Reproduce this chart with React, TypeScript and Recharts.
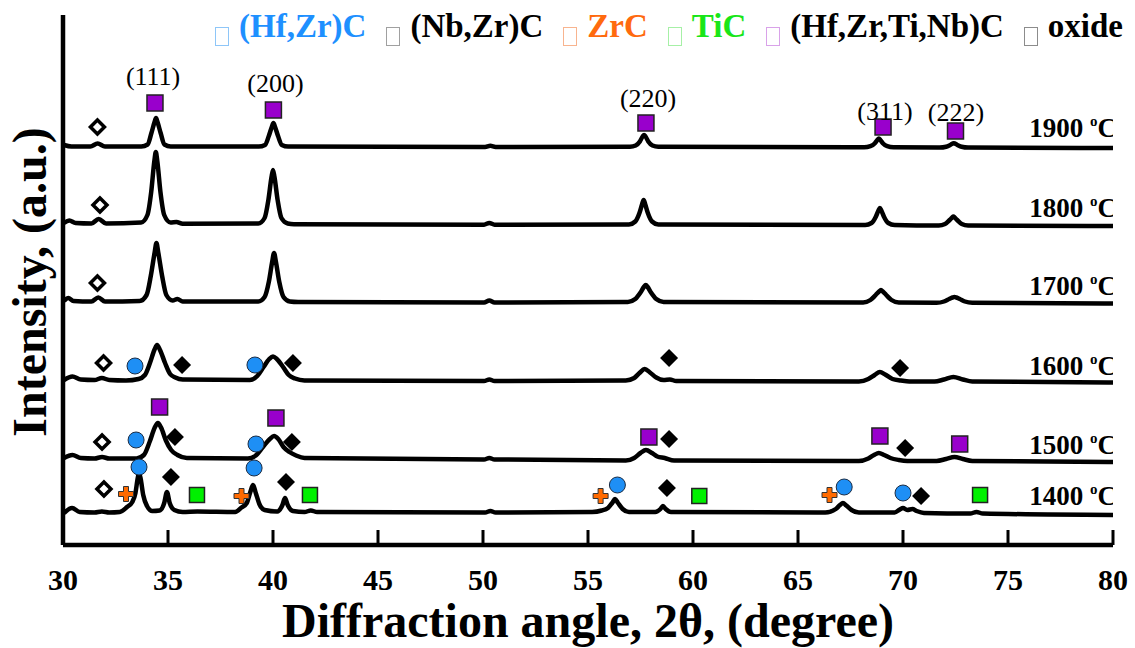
import { ComposedChart, Line, Scatter, XAxis, YAxis } from 'recharts'

// XRD traces, intensity in a.u. (height above the angle axis)
const trace1900: [number, number][] = [
  [30.05, 400], [30.4, 398.5], [31.3, 398.5], [31.65, 401.5], [32.0, 398.5],
  [33.73, 398.6], [34.03, 400.5], [34.21, 412], [34.36, 423], [34.43, 427], [34.5, 423], [34.65, 412], [34.83, 400.5], [35.13, 398.6],
  [39.32, 398.4], [39.62, 400], [39.8, 409], [39.95, 418.5], [40.02, 422], [40.09, 418.5], [40.24, 409], [40.42, 400], [40.72, 398.4],
  [50.1, 398], [50.35, 399.2], [50.6, 398],
  [57.0, 398.2], [57.27, 399.5], [57.47, 403.5], [57.6, 408.5], [57.67, 410], [57.74, 408.5], [57.87, 403.5], [58.07, 399.5], [58.35, 398.2],
  [68.15, 397.7], [68.45, 398.8], [68.65, 401.5], [68.78, 405], [68.85, 406.5], [68.92, 405], [69.05, 401.5], [69.25, 398.8], [69.55, 397.7],
  [71.75, 397.4], [72.05, 398.2], [72.25, 400], [72.42, 401.8], [72.59, 400], [72.79, 398.2], [73.1, 397.4],
  [80, 397],
]

const trace1800: [number, number][] = [
  [30.05, 322], [30.3, 324.5], [30.6, 322], [31.35, 321.5], [31.7, 326], [32.05, 321.5],
  [33.72, 322.5], [34.02, 330], [34.2, 353], [34.35, 384], [34.42, 393], [34.49, 384], [34.64, 353], [34.82, 330], [35.12, 322.5],
  [35.4, 323], [35.7, 321.2],
  [39.3, 321.5], [39.6, 327], [39.78, 345], [39.93, 368], [40.0, 375], [40.07, 368], [40.22, 345], [40.4, 327], [40.7, 321.5],
  [41.0, 320.8], [50.05, 320.3], [50.3, 322], [50.55, 320.3],
  [56.95, 320.5], [57.25, 323.5], [57.45, 332], [57.58, 341], [57.65, 345], [57.72, 341], [57.85, 332], [58.05, 323.5], [58.35, 320.5],
  [68.2, 320], [68.5, 322], [68.7, 328], [68.83, 334.5], [68.9, 337], [68.97, 334.5], [69.1, 328], [69.3, 322], [69.6, 320],
  [71.7, 319.5], [72.0, 321], [72.22, 325], [72.34, 327.5], [72.4, 328.5], [72.46, 327.5], [72.58, 325], [72.8, 321], [73.1, 319.5],
  [80, 319],
]

const trace1700: [number, number][] = [
  [30.05, 244], [30.25, 247], [30.5, 244], [31.35, 243.5], [31.68, 247.5], [32.0, 243.5],
  [33.65, 244], [33.98, 250], [34.18, 269], [34.36, 292], [34.45, 302], [34.54, 292], [34.72, 269], [34.92, 250], [35.22, 244.5],
  [35.45, 246], [35.7, 243.5],
  [39.3, 243.5], [39.6, 248], [39.8, 263], [39.96, 283], [40.05, 292], [40.14, 283], [40.3, 263], [40.5, 248], [40.8, 243.5],
  [41.2, 243], [50.05, 242.5], [50.3, 244.5], [50.55, 242.5],
  [56.9, 243], [57.25, 246], [57.5, 252.5], [57.66, 258], [57.75, 260], [57.84, 258], [58.0, 252.5], [58.25, 246], [58.6, 243],
  [68.1, 242.5], [68.45, 245], [68.7, 250], [68.86, 253.5], [68.95, 255], [69.04, 253.5], [69.2, 250], [69.45, 245], [69.8, 242.5],
  [71.6, 242.2], [71.95, 243.5], [72.2, 246], [72.36, 247.5], [72.45, 248], [72.54, 247.5], [72.7, 246], [72.95, 243.5], [73.3, 242.2],
  [80, 241.5],
]

const trace1600: [number, number][] = [
  [30.05, 165], [30.45, 168.5], [30.85, 165.5], [31.5, 165], [31.85, 167], [32.2, 165], [33.0, 164.5],
  [33.6, 166], [33.9, 170], [34.14, 182], [34.35, 195], [34.48, 200], [34.62, 195], [34.86, 182], [35.1, 171], [35.35, 167.5], [35.7, 165.5],
  [38.9, 165], [39.25, 169], [39.55, 178], [39.82, 186], [40.0, 188.5], [40.18, 186], [40.48, 178], [40.75, 170], [41.05, 166.5], [41.5, 164.5],
  [50.05, 164], [50.3, 165.5], [50.55, 164],
  [56.8, 164.5], [57.2, 167], [57.45, 172], [57.7, 176], [57.95, 172.5], [58.25, 167.5], [58.6, 165], [58.9, 165.5], [59.2, 164],
  [67.9, 163.5], [68.35, 166], [68.65, 170], [68.9, 173], [69.15, 170.5], [69.5, 166], [69.9, 164.5], [70.3, 163.5],
  [71.5, 163.5], [71.95, 165.5], [72.4, 168], [72.85, 165.5], [73.3, 163.5],
  [80, 162.5],
]

const trace1500: [number, number][] = [
  [30.05, 87], [30.45, 90], [30.85, 87], [31.5, 86.5], [31.86, 88], [32.2, 86.5],
  [33.5, 86.5], [33.85, 90], [34.14, 104], [34.36, 117], [34.52, 122], [34.68, 117], [34.9, 104.5], [35.15, 95], [35.45, 90], [35.9, 87],
  [38.8, 86.5], [39.15, 89], [39.52, 98], [39.85, 106], [40.05, 109], [40.25, 106], [40.5, 98], [40.78, 93], [41.1, 89.5], [41.5, 87],
  [50.05, 85.5], [50.3, 87], [50.55, 85.5],
  [56.8, 84.5], [57.2, 87], [57.5, 92], [57.76, 95], [58.05, 92], [58.3, 88.5], [58.65, 87], [59.1, 84.5],
  [67.9, 84], [68.35, 86.5], [68.62, 90], [68.85, 92], [69.1, 90], [69.4, 87], [69.8, 85], [70.2, 84],
  [71.6, 84], [72.05, 86], [72.45, 88], [72.85, 86], [73.3, 84],
  [80, 83],
]

const trace1400: [number, number][] = [
  [30.05, 32], [30.43, 37], [30.8, 33], [31.5, 32.5], [31.85, 33.5], [32.2, 32.5], [32.7, 33],
  [33.05, 38], [33.3, 43], [33.45, 52], [33.56, 67], [33.62, 72], [33.7, 66], [33.82, 50], [34.0, 39], [34.25, 34],
  [34.6, 34.5], [34.82, 42], [34.95, 53], [35.08, 42], [35.3, 35], [35.7, 33], [36.4, 33.5],
  [38.2, 33], [38.5, 37.5], [38.75, 42], [38.92, 53], [39.05, 60], [39.18, 52], [39.35, 41], [39.6, 35],
  [40.2, 33.5], [40.45, 40], [40.57, 47], [40.7, 40], [40.95, 34], [41.5, 33], [41.8, 34.5], [42.1, 33],
  [50.1, 32.5], [50.35, 34], [50.6, 32.5],
  [55.2, 33], [55.65, 34.5], [55.95, 37], [56.15, 42], [56.29, 46], [56.43, 42], [56.65, 36], [56.95, 33],
  [58.2, 33], [58.45, 36], [58.57, 39], [58.7, 36], [58.95, 33],
  [66.3, 32.5], [66.8, 36], [67.0, 40], [67.14, 42], [67.3, 39.5], [67.55, 35], [67.9, 32.5],
  [69.6, 32.5], [69.85, 35.5], [70.0, 37], [70.2, 35], [70.45, 36], [70.65, 34], [71.0, 32],
  [73.2, 31.5], [73.5, 33], [73.8, 31.5],
  [80, 30],
]

const traces = [trace1900, trace1800, trace1700, trace1600, trace1500, trace1400]

// phase markers [angle, intensity]
const hfNbZrTiC: [number, number][] = [
  [34.38, 442], [40.02, 435], [57.76, 422], [69.05, 418], [72.5, 414],
  [34.6, 138], [40.14, 127], [57.9, 108], [68.9, 109], [72.7, 101],
]
const oxideOpen: [number, number][] = [
  [31.64, 418], [31.76, 340], [31.64, 262], [31.93, 182], [31.86, 103], [31.95, 56],
]
const hfZrC: [number, number][] = [
  [33.43, 179], [39.14, 180],
  [33.48, 105], [39.19, 101],
  [33.62, 78], [39.1, 77], [56.4, 60], [67.2, 58], [70.0, 52],
]
const nbZrC: [number, number][] = [
  [35.67, 180], [40.95, 182], [58.86, 187], [69.86, 177],
  [35.33, 108], [40.9, 103], [58.86, 106], [70.1, 97],
  [35.14, 68], [40.62, 63], [58.76, 57], [70.86, 49],
]
const zrC: [number, number][] = [[33.0, 51], [38.5, 49], [55.6, 49], [66.5, 50]]
const tiC: [number, number][] = [[36.38, 50], [41.76, 50], [60.3, 49], [73.67, 50]]

const hklLabels = ['(111)', '(200)', '(220)', '(311)', '(222)']
const hklAngles = [34.29, 40.12, 57.86, 69.14, 72.52]
const hklHeights = [460, 453, 438, 425, 424]

const tempLabels = ['1900', '1800', '1700', '1600', '1500', '1400']
const tempHeights = [408, 328, 250, 170, 91, 40]

const angleTicks = [30, 35, 40, 45, 50, 55, 60, 65, 70, 75, 80]

const legendNames = ['(Hf,Zr)C', '(Nb,Zr)C', 'ZrC', 'TiC', '(Hf,Zr,Ti,Nb)C', 'oxide']
const legendText = ['#1E90FF', '#000', '#FF6A0E', '#19E619', '#000', '#000']
const legendBox = ['#8EC6F8', '#A0A0A0', '#F8B48F', '#A6F0A6', '#D9A2E9', '#8C8C8C']

const SERIF = '"Liberation Serif", "Times New Roman", serif'

const pts = (arr: [number, number][]) => arr.map(([x, y]) => ({ x, y }))

const PurpleSquare = ({ cx, cy }: any) => (
  <rect x={cx - 8} y={cy - 8} width={16} height={16} fill="#9900CC" stroke="#222" strokeWidth={1.5} />
)
const OpenDiamond = ({ cx, cy }: any) => (
  <polygon points={`${cx},${cy - 7} ${cx + 7},${cy} ${cx},${cy + 7} ${cx - 7},${cy}`} fill="#fff" stroke="#000" strokeWidth={3.5} />
)
const BlackDiamond = ({ cx, cy }: any) => (
  <polygon points={`${cx},${cy - 9} ${cx + 9},${cy} ${cx},${cy + 9} ${cx - 9},${cy}`} fill="#000" />
)
const BlueCircle = ({ cx, cy }: any) => <circle cx={cx} cy={cy} r={8} fill="#1E8FF5" stroke="#1d2d44" strokeWidth={1} />
const OrangePlus = ({ cx, cy }: any) => (
  <path
    d={`M${cx - 2.5},${cy - 7.5} h5 v5 h5 v5 h-5 v5 h-5 v-5 h-5 v-5 h5 z`}
    fill="#FF6A00"
    stroke="#333"
    strokeWidth={1}
  />
)
const GreenSquare = ({ cx, cy }: any) => (
  <rect x={cx - 7.5} y={cy - 7.5} width={15} height={15} fill="#00F000" stroke="#222" strokeWidth={1.5} />
)
const HklText = ({ cx, cy, payload }: any) => (
  <text x={cx} y={cy} textAnchor="middle" fontFamily={SERIF} fontSize={26} fill="#000">
    {payload.label}
  </text>
)
const TempText = ({ cx, cy, payload }: any) => (
  <text x={cx + 4} y={cy} textAnchor="end" fontFamily={SERIF} fontSize={27} fontWeight="bold" fill="#000">
    {payload.label}{' '}
    <tspan fontSize={15} dy={-11}>o</tspan>
    <tspan dy={11}>C</tspan>
  </text>
)

const AngleTick = ({ x, y, payload }: any) => (
  <g>
    <line x1={x} x2={x} y1={y} y2={y - 15} stroke="#000" strokeWidth={3} />
    <text x={x} y={y + 45} textAnchor="middle" fontFamily={SERIF} fontSize={30} fontWeight="bold" fill="#000">
      {payload.value}
    </text>
  </g>
)

const XTitle = (props: any) => {
  const vb = props.viewBox || { x: 63, y: 545, width: 1050, height: 103 }
  return (
    <text x={vb.x + vb.width / 2} y={vb.y + 92} textAnchor="middle" fontFamily={SERIF} fontSize={48} fontWeight="bold" fill="#000">
      Diffraction angle, 2θ, (degree)
    </text>
  )
}

const YTitle = (props: any) => {
  const vb = props.viewBox || { x: 0, y: 15, width: 63, height: 530 }
  const tx = vb.x + 46
  const ty = vb.y + vb.height / 2 + 2
  return (
    <text x={tx} y={ty} transform={`rotate(-90 ${tx} ${ty})`} textAnchor="middle" fontFamily={SERIF} fontSize={48} fontWeight="bold" fill="#000">
      Intensity, (a.u.)
    </text>
  )
}

export default function App() {
  const hkl = hklLabels.map((label, i) => ({ x: hklAngles[i], y: hklHeights[i], label }))
  const temps = tempLabels.map((label, i) => ({ x: 80, y: tempHeights[i], label }))

  return (
    <div style={{ position: 'absolute', left: 0, top: 0, width: 1135, height: 648, background: '#fff' }}>
      <ComposedChart width={1135} height={648} margin={{ top: 15, right: 22, left: 0, bottom: 0 }}>
        <XAxis
          type="number"
          dataKey="x"
          domain={[30, 80]}
          ticks={angleTicks}
          allowDataOverflow
          height={103}
          tickSize={0}
          tickMargin={0}
          tickLine={false}
          tick={<AngleTick />}
          axisLine={{ stroke: '#000', strokeWidth: 4.5 }}
          label={{ content: XTitle }}
        />
        <YAxis
          type="number"
          dataKey="y"
          domain={[0, 530]}
          allowDataOverflow
          width={63}
          tick={false}
          tickLine={false}
          axisLine={{ stroke: '#000', strokeWidth: 4.5 }}
          label={{ content: YTitle }}
        />
        {traces.map((t, i) => (
          <Line
            key={i}
            data={pts(t)}
            dataKey="y"
            type="monotone"
            stroke="#000"
            strokeWidth={4.5}
            dot={false}
            activeDot={false}
            isAnimationActive={false}
          />
        ))}
        <Scatter data={pts(hfNbZrTiC)} shape={PurpleSquare} isAnimationActive={false} />
        <Scatter data={pts(oxideOpen)} shape={OpenDiamond} isAnimationActive={false} />
        <Scatter data={pts(hfZrC)} shape={BlueCircle} isAnimationActive={false} />
        <Scatter data={pts(nbZrC)} shape={BlackDiamond} isAnimationActive={false} />
        <Scatter data={pts(zrC)} shape={OrangePlus} isAnimationActive={false} />
        <Scatter data={pts(tiC)} shape={GreenSquare} isAnimationActive={false} />
        <Scatter data={hkl} shape={HklText} isAnimationActive={false} />
        <Scatter data={temps} shape={TempText} isAnimationActive={false} />
      </ComposedChart>
      <div
        style={{
          position: 'absolute',
          left: 215,
          top: 10,
          whiteSpace: 'nowrap',
          fontFamily: SERIF,
          fontSize: 33,
          fontWeight: 'bold',
          lineHeight: '33px',
        }}
      >
        {legendNames.map((name, i) => (
          <span key={name} style={{ marginRight: 20 }}>
            <span
              style={{
                display: 'inline-block',
                boxSizing: 'border-box',
                width: 14,
                height: 19,
                border: `1.5px solid ${legendBox[i]}`,
                verticalAlign: '-9px',
                marginRight: 10,
              }}
            />
            <span style={{ color: legendText[i] }}>{name}</span>
          </span>
        ))}
      </div>
    </div>
  )
}
